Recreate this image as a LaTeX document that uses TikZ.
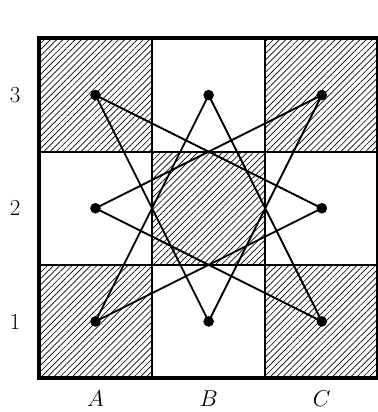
\documentclass[tikz,border=0pt]{standalone}
\usetikzlibrary{patterns.meta}
\tikzset{
  hatched/.style={pattern={Lines[angle=45,distance=3.3pt,line width=0.5pt]}},
  dot/.style={circle,fill,inner sep=0pt,minimum size=8pt},
  tag/.style={font=\LARGE}
}
\begin{document}
\begin{tikzpicture}[x=1cm,y=1cm]
  \useasboundingbox (-1.03,-0.9) rectangle (8.98,10.02);
  % hatched cells
  \foreach \x/\y in {0/0,0/6,6/0,6/6,3/3}
    \fill[hatched] (\x,\y) rectangle ++(3,3);
  \draw[line width=1.3pt] (0,0) grid[step=3] (9,9);
  \draw[line width=3pt] (0,0) rectangle (9,9);
  % labels
  \foreach \c [count=\i] in {A,B,C}
    \node[tag] (col\c) at (3*\i-1.5,-0.55) {$\c$};
  \foreach \r in {1,2,3}
    \node[tag] (row\r) at (-0.63,3*\r-1.5) {\r};
  % points
  \foreach \n/\x/\y in {a1/1.5/1.5,a2/1.5/4.5,a3/1.5/7.5,b1/4.5/1.5,
                        b3/4.5/7.5,c1/7.5/1.5,c2/7.5/4.5,c3/7.5/7.5}
    \node[dot] (\n) at (\x,\y) {};
  \draw[line width=1.4pt,line join=round]
    (a3.center) -- (c2.center) -- (a1.center) -- (b3.center) -- (c1.center)
    -- (a2.center) -- (c3.center) -- (b1.center) -- cycle;
\end{tikzpicture}
\end{document}
